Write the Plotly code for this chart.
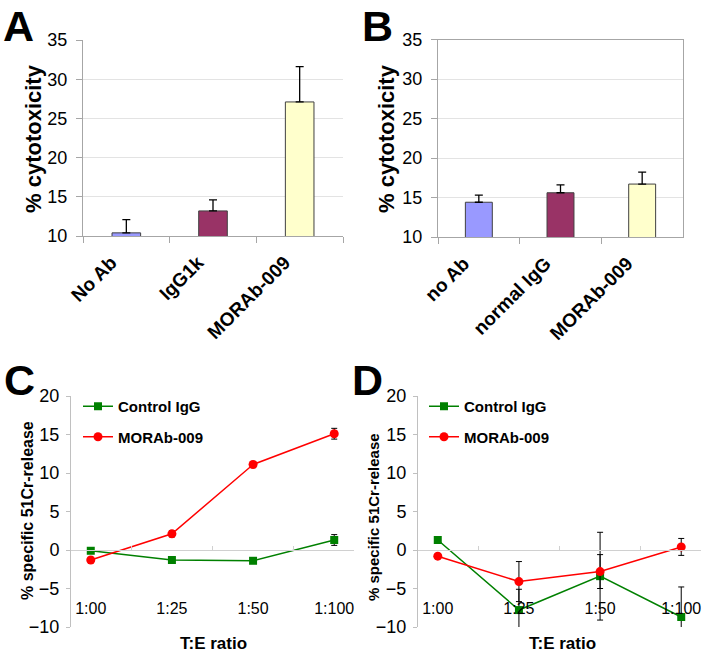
import plotly.graph_objects as go

W, H = 705, 656

# panel A
cats_a = ["No Ab", "IgG1k", "MORAb-009"]
vals_a = [10.4, 13.2, 27.1]
err_a = [1.7, 1.4, 4.5]

# panel B
cats_b = ["no Ab", "normal IgG", "MORAb-009"]
vals_b = [14.4, 15.6, 16.7]
err_b = [0.9, 1.0, 1.5]

bar_colors = ["#9999FF", "#993366", "#FFFFCC"]

# panels C and D
ratios = ["1:00", "1:25", "1:50", "1:100"]
c_ctrl = [-0.1, -1.3, -1.4, 1.3]
c_ctrl_err = [0.3, 0.3, 0.3, 0.7]
c_morab = [-1.3, 2.1, 11.1, 15.1]
c_morab_err = [0.3, 0.4, 0.4, 0.7]
d_ctrl = [1.3, -7.8, -3.4, -8.7]
d_ctrl_err = [0.2, 2.7, 5.7, 3.9]
d_morab = [-0.8, -4.1, -2.8, 0.4]
d_morab_err = [0.2, 2.6, 2.2, 1.1]


def px(x):
    return x / W


def py(y):
    return 1 - y / H


FONT = "Liberation Sans"
GRID = "#e3e3e3"
LINE = "#a6a6a6"

fig = go.Figure()

fig.add_trace(go.Bar(x=cats_a, y=vals_a, marker_color=bar_colors,
                     marker_line=dict(color="#404040", width=1),
                     error_y=dict(type="data", symmetric=False, array=err_a, arrayminus=[0] * 3,
                                  color="black", thickness=1.3, width=4),
                     xaxis="x", yaxis="y", showlegend=False))
fig.add_trace(go.Bar(x=cats_b, y=vals_b, marker_color=bar_colors,
                     marker_line=dict(color="#404040", width=1),
                     error_y=dict(type="data", symmetric=False, array=err_b, arrayminus=[0] * 3,
                                  color="black", thickness=1.3, width=4),
                     xaxis="x2", yaxis="y2", showlegend=False))


def add_lines(xa, ya, ctrl, ctrl_err, morab, morab_err, legend):
    fig.add_trace(go.Scatter(x=ratios, y=ctrl, name="Control IgG", mode="lines+markers",
                             line=dict(color="#008000", width=1.5),
                             marker=dict(symbol="square", size=8, color="#008000"),
                             error_y=dict(type="data", array=ctrl_err, color="black", thickness=1, width=3),
                             xaxis=xa, yaxis=ya, legend=legend, legendgroup=legend + "a"))
    fig.add_trace(go.Scatter(x=ratios, y=morab, name="MORAb-009", mode="lines+markers",
                             line=dict(color="#FF0000", width=1.5),
                             marker=dict(symbol="circle", size=9, color="#FF0000"),
                             error_y=dict(type="data", array=morab_err, color="black", thickness=1, width=3),
                             xaxis=xa, yaxis=ya, legend=legend, legendgroup=legend + "b"))


add_lines("x3", "y3", c_ctrl, c_ctrl_err, c_morab, c_morab_err, "legend")
add_lines("x4", "y4", d_ctrl, d_ctrl_err, d_morab, d_morab_err, "legend2")

bar_x = dict(type="category", showline=True, linecolor=LINE, ticks="outside", tickson="boundaries",
             ticklen=6, tickcolor=LINE, tickangle=-45, showgrid=False, automargin=False,
             ticklabelstandoff=7, ticklabelshift=-15,
             tickfont=dict(family=FONT, size=19, color="black", weight="bold"))
bar_y = dict(range=[10, 35], dtick=5, showline=True, linecolor=LINE, ticks="outside", ticklen=6,
             tickcolor=LINE, gridcolor=GRID, zeroline=False, ticklabelstandoff=5, automargin=False,
             tickfont=dict(family=FONT, size=18, color="black"))

y_cd = [py(627), py(396)]
zero_pos = y_cd[0] + (y_cd[1] - y_cd[0]) * 10 / 30

line_x = dict(type="category", anchor="free", position=zero_pos, showline=True, linecolor="#d0d0d0",
              ticks="inside", tickson="boundaries", ticklen=4, tickcolor="#d0d0d0", showgrid=False,
              ticklabelstandoff=44, automargin=False,
              tickfont=dict(family=FONT, size=16, color="black"))
line_y = dict(range=[-10, 20], dtick=5, showline=True, linecolor="#c0c0c0", ticks="outside", ticklen=4,
              tickcolor="#c0c0c0", showgrid=False, zeroline=False, ticklabelstandoff=3, automargin=False,
              tickfont=dict(family=FONT, size=18, color="black"))

legend_style = dict(font=dict(family=FONT, size=15, color="black", weight="bold"),
                    bgcolor="rgba(0,0,0,0)", tracegroupgap=8, xanchor="left", yanchor="top",
                    itemwidth=30)

fig.update_layout(
    width=W, height=H, margin=dict(l=0, r=0, t=0, b=0, autoexpand=False),
    plot_bgcolor="white", paper_bgcolor="white",
    font=dict(family=FONT, color="black"),
    bargap=0.67,
    xaxis=dict(bar_x, domain=[px(83), px(343)], anchor="y"),
    yaxis=dict(bar_y, domain=[py(236), py(40)], anchor="x"),
    xaxis2=dict(bar_x, domain=[px(438), px(683)], anchor="y2", mirror=True),
    yaxis2=dict(bar_y, domain=[py(237), py(39.5)], anchor="x2", mirror=True),
    xaxis3=dict(line_x, domain=[px(71), px(354)]),
    yaxis3=dict(line_y, domain=y_cd, anchor="x3"),
    xaxis4=dict(line_x, domain=[px(418), px(701)]),
    yaxis4=dict(line_y, domain=y_cd, anchor="x4"),
    legend=dict(legend_style, x=px(78), y=py(390)),
    legend2=dict(legend_style, x=px(424), y=py(390)),
)

letters = [("A", 1, 26), ("B", 360, 26), ("C", 2, 380), ("D", 350, 380)]
for txt, lx, ly in letters:
    fig.add_annotation(text=txt, x=px(lx), y=py(ly), xref="paper", yref="paper", xanchor="left",
                       yanchor="middle", showarrow=False,
                       font=dict(family=FONT, size=43, color="black", weight="bold"))

for tx, ty in [(33, 139), (386, 139)]:
    fig.add_annotation(text="% cytotoxicity", x=px(tx), y=py(ty), xref="paper", yref="paper",
                       xanchor="center", yanchor="middle", textangle=-90, showarrow=False,
                       font=dict(family=FONT, size=22, color="black", weight="bold"))

for tx, ty, fs in [(27, 511, 16), (373, 517, 15)]:
    fig.add_annotation(text="% specific 51Cr-release", x=px(tx), y=py(ty), xref="paper", yref="paper",
                       xanchor="center", yanchor="middle", textangle=-90, showarrow=False,
                       font=dict(family=FONT, size=fs, color="black", weight="bold"))

for tx, ty in [(213, 643), (562, 643)]:
    fig.add_annotation(text="T:E ratio", x=px(tx), y=py(ty), xref="paper", yref="paper",
                       xanchor="center", yanchor="middle", showarrow=False,
                       font=dict(family=FONT, size=17, color="black", weight="bold"))

# the page body has a default 8px margin; drop it so the figure starts at the corner
fig.write_html("out.html", config={"displayModeBar": False},
               post_script="document.body.style.margin='0px';")
